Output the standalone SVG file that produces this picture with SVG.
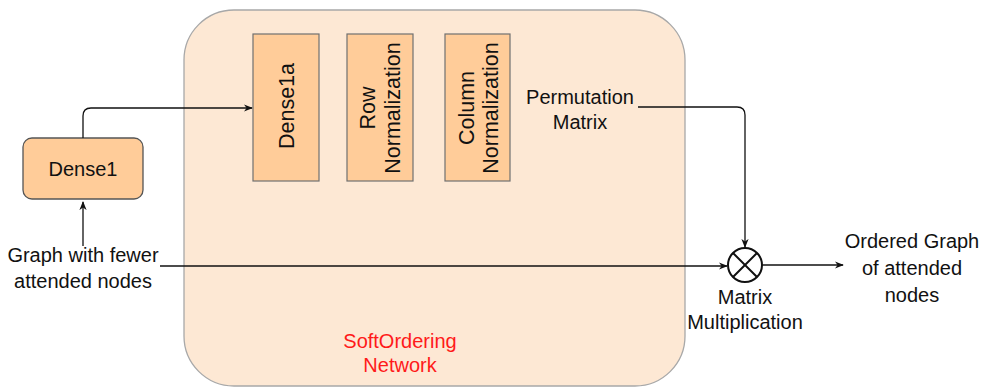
<svg xmlns="http://www.w3.org/2000/svg" width="984" height="388" viewBox="0 0 984 388">
<style>
.t{font-family:"Liberation Sans",Arial,sans-serif;font-size:20px;fill:#111;text-anchor:middle}
.v{font-family:"Liberation Sans",Arial,sans-serif;font-size:21.5px;fill:#111;text-anchor:middle;dominant-baseline:central}
.box{fill:#ffcc99;stroke:#707070;stroke-width:1.2}
.ln{fill:none;stroke:#111;stroke-width:1.3}
</style>
<defs>
<marker id="ar" viewBox="0 0 10 10" refX="9" refY="5" markerWidth="9" markerHeight="9" markerUnits="userSpaceOnUse" orient="auto">
<path d="M0,1 L10,5 L0,9 L3,5 Z" fill="#111"/>
</marker>
</defs>
<rect width="984" height="388" fill="#fff"/>
<g id="softordering">
<rect x="184" y="10" width="501" height="376" rx="50" ry="50" fill="#fde8d4" stroke="#a8a8a8" stroke-width="1.3"/>
<text class="t" x="400" y="348" style="fill:#ff1a1a">SoftOrdering</text>
<text class="t" x="400" y="372" style="fill:#ff1a1a">Network</text>
</g>
<g id="dense1">
<rect x="23" y="138" width="120" height="61" rx="9" ry="9" fill="#ffcc99" stroke="#555" stroke-width="1.3"/>
<text class="t" x="83" y="176">Dense1</text>
</g>
<g id="dense1a">
<rect class="box" x="253" y="34" width="66" height="147"/>
<text class="v" transform="translate(287,106) rotate(-90)">Dense1a</text>
</g>
<g id="rownorm">
<rect class="box" x="347" y="34" width="66" height="147"/>
<g transform="translate(380,108) rotate(-90)">
<text class="v" x="0" y="-12">Row</text>
<text class="v" x="0" y="13">Normalization</text>
</g>
</g>
<g id="colnorm">
<rect class="box" x="445" y="34" width="65" height="147"/>
<g transform="translate(478,108) rotate(-90)">
<text class="v" x="0" y="-11">Column</text>
<text class="v" x="0" y="13">Normalization</text>
</g>
</g>
<g id="permutation">
<text class="t" x="580" y="104">Permutation</text>
<text class="t" x="580" y="129">Matrix</text>
</g>
<g id="input">
<text class="t" x="83" y="262">Graph with fewer</text>
<text class="t" x="83" y="288">attended nodes</text>
</g>
<g id="matmul">
<circle cx="745" cy="265" r="17" fill="#fff" stroke="#111" stroke-width="2"/>
<path d="M733,253 L757,277 M757,253 L733,277" stroke="#111" stroke-width="2"/>
<text class="t" x="745" y="304">Matrix</text>
<text class="t" x="745" y="329">Multiplication</text>
</g>
<g id="output">
<text class="t" x="912" y="248">Ordered Graph</text>
<text class="t" x="912" y="275">of attended</text>
<text class="t" x="912" y="302">nodes</text>
</g>
<g id="connectors">
<path class="ln" d="M83,246 L83,202" marker-end="url(#ar)"/>
<path class="ln" d="M83,138 L83,116 Q83,108 91,108 L252,108" marker-end="url(#ar)"/>
<path class="ln" d="M160,266 L727,266" marker-end="url(#ar)"/>
<path class="ln" d="M638,107 L737,107 Q745,107 745,115 L745,247" marker-end="url(#ar)"/>
<path class="ln" d="M762,265 L843,265" marker-end="url(#ar)"/>
</g>
</svg>
